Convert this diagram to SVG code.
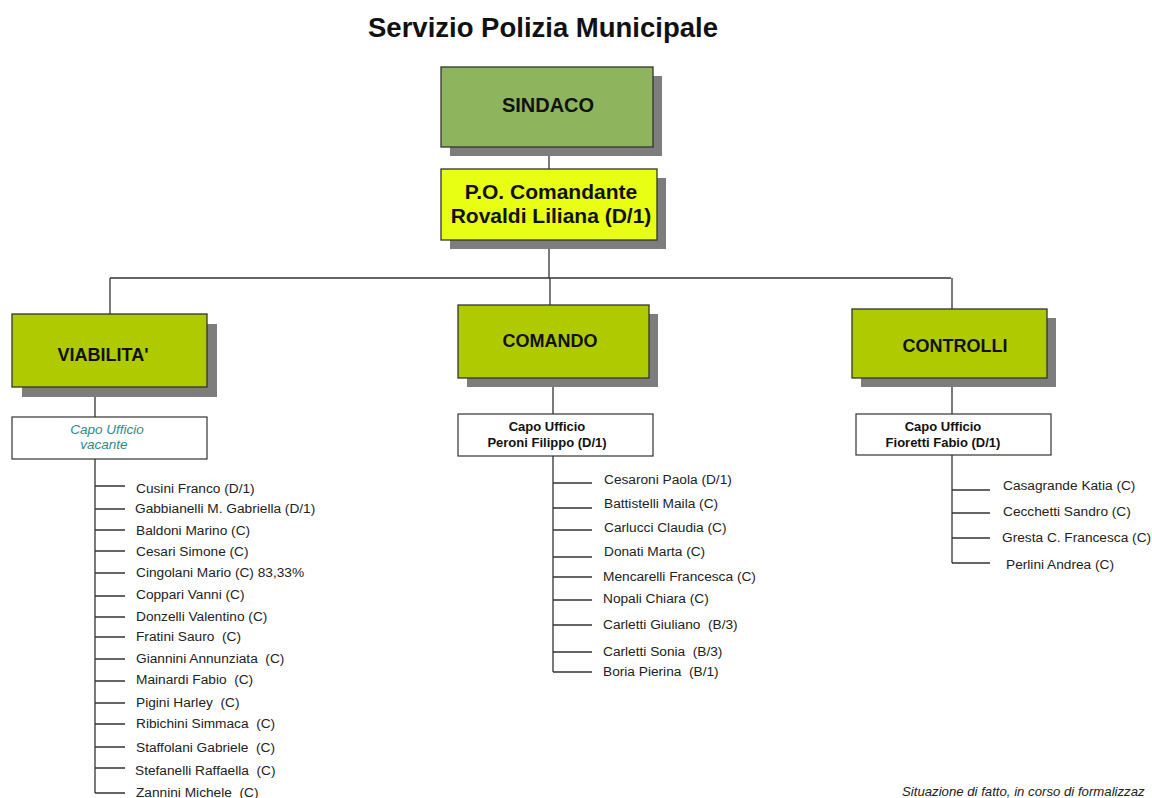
<svg xmlns="http://www.w3.org/2000/svg" width="1152" height="798" viewBox="0 0 1152 798" xml:space="preserve">
<style>
text{font-family:"Liberation Sans",Arial,sans-serif;fill:#111;white-space:pre}
.title{font-size:27.5px;font-weight:bold}
.hdr{font-size:18px;font-weight:bold;text-anchor:middle}
.cap{font-size:13px;font-weight:bold;text-anchor:middle}
.vac{font-size:13.5px;font-style:italic;text-anchor:middle;fill:#2f8a8a}
.item{font-size:13.7px;fill:#222}
.shadow{fill:#7d7d7d}
.box{stroke:#333;stroke-width:1.3}
.wbox{fill:#fff;stroke:#333;stroke-width:1.2}
.ln{stroke:#333;stroke-width:1.3;fill:none}
.note{font-size:13.2px;font-style:italic;fill:#222}
</style>
<rect width="1152" height="798" fill="#fff"/>
<text class="title" x="543" y="37" text-anchor="middle">Servizio Polizia Municipale</text>
<g id="connectors">
<path class="ln" d="M549 147V169M549 240V278M110 278H951M110 278V314M550 278V305M952 278V309"/>
<path class="ln" d="M95 387V417M553 378V414M952 378V414"/>
<path class="ln" d="M95 459V793M95 486H125M95 509H125M95 530H125M95 551H125M95 573H125M95 596H125M95 617H125M95 637H125M95 659H125M95 681H125M95 703H125M95 724H125M95 747H125M95 768H125M95 793H125"/>
<path class="ln" d="M553 456V672M553 483H592M553 508H592M553 530H592M553 557H592M553 577H592M553 600H592M553 625H592M553 652H592M553 672H592"/>
<path class="ln" d="M952 455V563M952 490H990M952 513H990M952 538H990M952 563H990"/>
</g>
<g id="sindaco">
<rect class="shadow" x="450" y="76" width="212" height="80"/>
<rect class="box" x="441" y="67" width="212" height="80" fill="#8eb55e"/>
<text class="hdr" x="548" y="112" style="font-size:20px">SINDACO</text>
</g>
<g id="comandante">
<rect class="shadow" x="450" y="178" width="216" height="71"/>
<rect class="box" x="441" y="169" width="216" height="71" fill="#e8ff14"/>
<text class="hdr" x="551" y="199" style="font-size:21px">P.O. Comandante</text>
<text class="hdr" x="551" y="223" style="font-size:21px">Rovaldi Liliana (D/1)</text>
</g>
<g id="viabilita">
<rect class="shadow" x="22" y="324" width="195" height="73"/>
<rect class="box" x="12" y="314" width="195" height="73" fill="#afcb00"/>
<text class="hdr" x="103" y="361">VIABILITA'</text>
</g>
<g id="comando">
<rect class="shadow" x="467" y="314" width="191" height="73"/>
<rect class="box" x="458" y="305" width="191" height="73" fill="#afcb00"/>
<text class="hdr" x="550" y="347">COMANDO</text>
</g>
<g id="controlli">
<rect class="shadow" x="861" y="318" width="195" height="69"/>
<rect class="box" x="852" y="309" width="195" height="69" fill="#afcb00"/>
<text class="hdr" x="955" y="352">CONTROLLI</text>
</g>
<g id="capo-viabilita">
<rect class="wbox" x="12" y="417" width="195" height="42"/>
<text class="vac" x="107" y="434">Capo Ufficio</text>
<text class="vac" x="104" y="449">vacante</text>
</g>
<g id="capo-comando">
<rect class="wbox" x="458" y="414" width="195" height="42"/>
<text class="cap" x="547" y="431">Capo Ufficio</text>
<text class="cap" x="547" y="447">Peroni Filippo (D/1)</text>
</g>
<g id="capo-controlli">
<rect class="wbox" x="856" y="414" width="195" height="41"/>
<text class="cap" x="943" y="431">Capo Ufficio</text>
<text class="cap" x="943" y="447">Fioretti Fabio (D/1)</text>
</g>
<g id="staff-viabilita">
<text class="item" x="136" y="493">Cusini Franco (D/1)</text>
<text class="item" x="135" y="513">Gabbianelli M. Gabriella (D/1)</text>
<text class="item" x="136" y="535">Baldoni Marino (C)</text>
<text class="item" x="136" y="556">Cesari Simone (C)</text>
<text class="item" x="136" y="577">Cingolani Mario (C) 83,33%</text>
<text class="item" x="136" y="599">Coppari Vanni (C)</text>
<text class="item" x="136" y="621">Donzelli Valentino (C)</text>
<text class="item" x="136" y="641">Fratini Sauro  (C)</text>
<text class="item" x="136" y="663">Giannini Annunziata  (C)</text>
<text class="item" x="136" y="684">Mainardi Fabio  (C)</text>
<text class="item" x="136" y="707">Pigini Harley  (C)</text>
<text class="item" x="136" y="728">Ribichini Simmaca  (C)</text>
<text class="item" x="136" y="752">Staffolani Gabriele  (C)</text>
<text class="item" x="135" y="775">Stefanelli Raffaella  (C)</text>
<text class="item" x="136" y="797">Zannini Michele  (C)</text>
</g>
<g id="staff-comando">
<text class="item" x="604" y="484">Cesaroni Paola (D/1)</text>
<text class="item" x="604" y="508">Battistelli Maila (C)</text>
<text class="item" x="604" y="532">Carlucci Claudia (C)</text>
<text class="item" x="604" y="556">Donati Marta (C)</text>
<text class="item" x="603" y="581">Mencarelli Francesca (C)</text>
<text class="item" x="603" y="603">Nopali Chiara (C)</text>
<text class="item" x="603" y="629">Carletti Giuliano  (B/3)</text>
<text class="item" x="603" y="656">Carletti Sonia  (B/3)</text>
<text class="item" x="603" y="676">Boria Pierina  (B/1)</text>
</g>
<g id="staff-controlli">
<text class="item" x="1003" y="490">Casagrande Katia (C)</text>
<text class="item" x="1003" y="516">Cecchetti Sandro (C)</text>
<text class="item" x="1002" y="542">Gresta C. Francesca (C)</text>
<text class="item" x="1006" y="569">Perlini Andrea (C)</text>
</g>
<text class="note" x="902" y="796">Situazione di fatto, in corso di formalizzaz</text>
</svg>
